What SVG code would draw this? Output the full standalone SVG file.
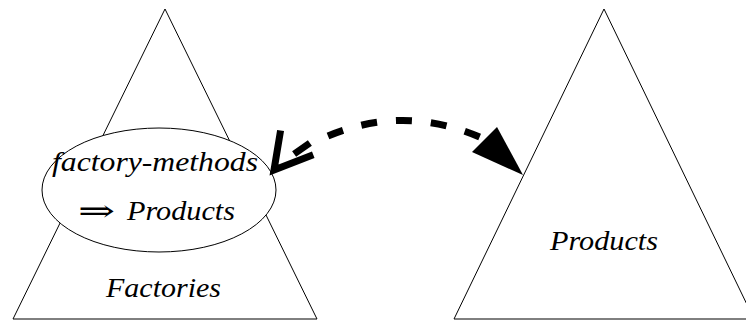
<svg xmlns="http://www.w3.org/2000/svg" width="746" height="320" viewBox="0 0 746 320">
  <style>
    .shape { fill: none; stroke: #000; stroke-width: 1; }
    .label { font-family: "Liberation Serif", "DejaVu Serif", serif; font-style: italic; font-size: 28px; fill: #000; }
    .sym { font-family: "DejaVu Serif", "Liberation Serif", serif; font-size: 30px; fill: #000; }
    .dash { fill: none; stroke: #000; stroke-width: 7; stroke-dasharray: 16 19; }
    .head { fill: none; stroke: #000; stroke-width: 7; stroke-linejoin: miter; stroke-linecap: square; }
  </style>
  <rect width="746" height="320" fill="#fff"/>

  <g id="factories">
    <polygon class="shape" points="165,9 13,319 317,319"/>
    <text class="label" x="106" y="297" textLength="115" lengthAdjust="spacingAndGlyphs">Factories</text>
  </g>

  <g id="factory-methods">
    <ellipse cx="159" cy="190" rx="117" ry="62" fill="#fff" stroke="#000" stroke-width="1"/>
    <text class="label" x="52" y="171" textLength="206" lengthAdjust="spacingAndGlyphs">factory-methods</text>
    <text class="sym" x="78" y="221" textLength="37" lengthAdjust="spacingAndGlyphs">⇒</text>
    <text class="label" x="127" y="220" textLength="108" lengthAdjust="spacingAndGlyphs">Products</text>
  </g>

  <g id="products">
    <polygon class="shape" points="604,9 454,319 754,319"/>
    <text class="label" x="550" y="250" textLength="108" lengthAdjust="spacingAndGlyphs">Products</text>
  </g>

  <g id="connectors">
    <path class="dash" d="M328 136 Q405 104 482 138"/>
    <!-- open head at the factory-methods end -->
    <polyline class="head" points="280,134 274,170 310,156"/>
    <line class="head" x1="297" y1="152" x2="307" y2="145"/>
    <!-- filled head at the Products end -->
    <polygon points="497,127 472,152 523,175" fill="#000"/>
  </g>
</svg>
